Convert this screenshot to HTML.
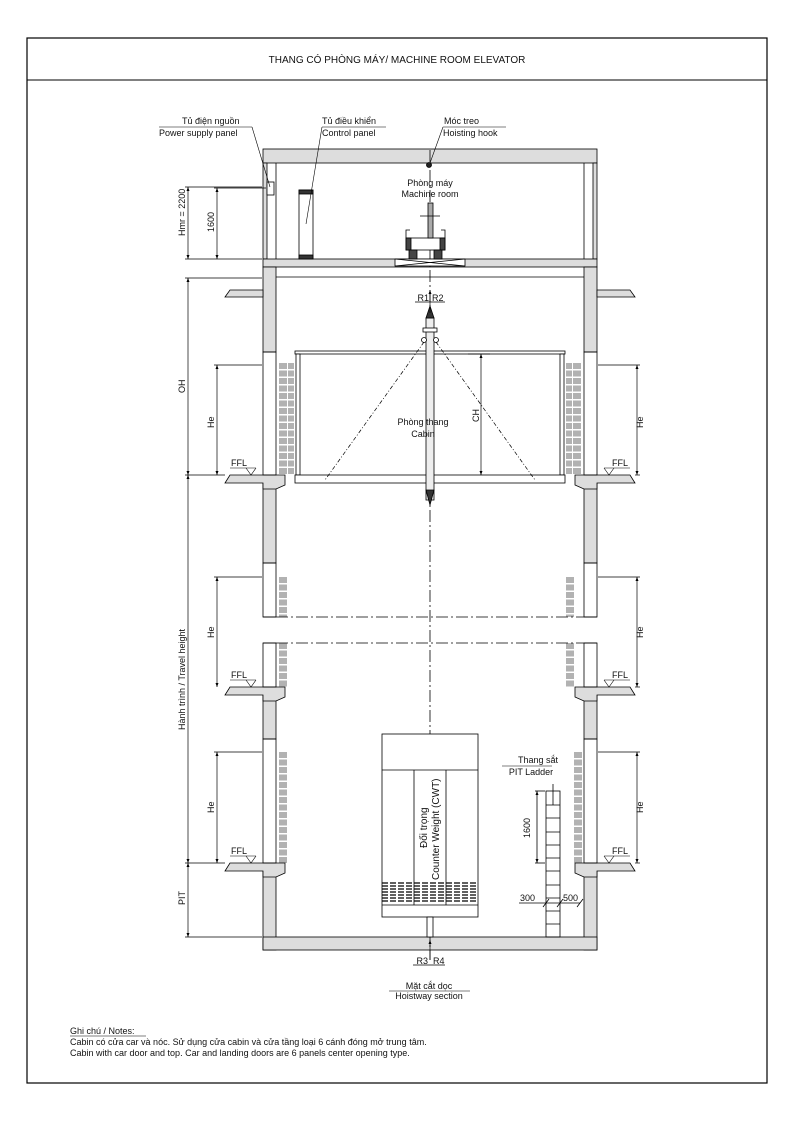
<!DOCTYPE html>
<html><head><meta charset="utf-8"><style>
html,body{margin:0;padding:0;background:#fff}
svg{display:block}
text{font-family:"Liberation Sans","Noto Sans CJK SC",sans-serif;fill:#111}
</style></head><body>
<svg width="793" height="1122" viewBox="0 0 793 1122" xmlns="http://www.w3.org/2000/svg">
<defs>
<marker id="ar" markerWidth="8" markerHeight="8" refX="4" refY="4" orient="auto-start-reverse" markerUnits="userSpaceOnUse"><path d="M0,2.5 L4,4 L0,5.5 Z" fill="#000"/></marker>
</defs>
<rect x="27" y="38" width="740" height="1045" fill="none" stroke="#000" stroke-width="1.2"/>
<line x1="27" y1="80" x2="767" y2="80" stroke="#000" stroke-width="1"/>
<text x="397" y="63" font-size="10" text-anchor="middle">THANG CÓ PHÒNG MÁY/  MACHINE ROOM ELEVATOR</text>

<g stroke="#000" stroke-width="0.8" fill="#ddd">
<rect x="263" y="149" width="334" height="14"/>
<rect x="263" y="163" width="4" height="96"/>
<rect x="593" y="163" width="4" height="96"/>
<rect x="263" y="259" width="334" height="8"/>
<rect x="263" y="267" width="13" height="85"/>
<rect x="263" y="483" width="13" height="80"/>
<rect x="263" y="695" width="13" height="44"/>
<rect x="263" y="871" width="13" height="79"/>
<rect x="584" y="267" width="13" height="85"/>
<rect x="584" y="483" width="13" height="80"/>
<rect x="584" y="695" width="13" height="44"/>
<rect x="584" y="871" width="13" height="79"/>
<rect x="263" y="937" width="334" height="13"/>
<path d="M263,290 L230,290 L225,297 L263,297 Z"/>
<path d="M597,290 L630,290 L635,297 L597,297 Z"/>
<path d="M276,475 L230,475 L225,483 L263,483 L263,489 L276,489 L285,485 L285,475 Z"/>
<path d="M276,687 L230,687 L225,695 L263,695 L263,701 L276,701 L285,697 L285,687 Z"/>
<path d="M276,863 L230,863 L225,871 L263,871 L263,877 L276,877 L285,873 L285,863 Z"/>
<path d="M584,475 L630,475 L635,483 L597,483 L597,489 L584,489 L575,485 L575,475 Z"/>
<path d="M584,687 L630,687 L635,695 L597,695 L597,701 L584,701 L575,697 L575,687 Z"/>
<path d="M584,863 L630,863 L635,871 L597,871 L597,877 L584,877 L575,873 L575,863 Z"/>
</g>
<g stroke="#000" stroke-width="0.8" fill="none">
<line x1="276" y1="163" x2="276" y2="259"/><line x1="584" y1="163" x2="584" y2="259"/>
<line x1="276" y1="277" x2="584" y2="277"/>
<rect x="263" y="352" width="13" height="123"/><rect x="584" y="352" width="13" height="123"/>
<rect x="263" y="563" width="13" height="54"/><rect x="584" y="563" width="13" height="54"/>
<rect x="263" y="643" width="13" height="44"/><rect x="584" y="643" width="13" height="44"/>
<rect x="263" y="739" width="13" height="124"/><rect x="584" y="739" width="13" height="124"/>
</g>
<g stroke="#000" stroke-width="0.8" stroke-dasharray="12,3,2,3">
<line x1="276" y1="617" x2="584" y2="617"/>
<line x1="276" y1="643" x2="584" y2="643"/>
<line x1="430" y1="150" x2="430" y2="960"/>
</g>
<g stroke="#000" stroke-width="0.8"><line x1="263" y1="617" x2="276" y2="617"/><line x1="263" y1="643" x2="276" y2="643"/><line x1="584" y1="617" x2="597" y2="617"/><line x1="584" y1="643" x2="597" y2="643"/></g>

<g stroke="#000" stroke-width="0.8" fill="#fff">
<rect x="267" y="182" width="7" height="13"/>
<rect x="299" y="190" width="14" height="69"/>
<rect x="299" y="190" width="14" height="4" fill="#333"/>
<rect x="299" y="255" width="14" height="4" fill="#333"/>
<rect x="395" y="259" width="70" height="7"/>
<line x1="395" y1="259" x2="465" y2="266"/><line x1="395" y1="266" x2="465" y2="259"/>
<rect x="406" y="238" width="39" height="12"/>
<rect x="406" y="238" width="5" height="12" fill="#444"/><rect x="440" y="238" width="5" height="12" fill="#444"/>
<rect x="409" y="250" width="8" height="9" fill="#444"/><rect x="434" y="250" width="8" height="9" fill="#444"/>
<rect x="428" y="203" width="5" height="35" fill="#aaa"/>
<line x1="420" y1="216" x2="440" y2="216"/>
<path d="M406,238 V230 H410 M445,238 V230 H441" fill="none"/>
<circle cx="429" cy="165" r="2.5" fill="#222"/>
</g>

<g stroke="#000" stroke-width="0.8" fill="#fff">
<rect x="295" y="351" width="270" height="3"/>
<rect x="296" y="354" width="4" height="121"/><rect x="560" y="354" width="4" height="121"/>
<rect x="295" y="475" width="270" height="8"/>
<rect x="426" y="318" width="8" height="182" fill="#eee"/>
<rect x="423" y="328" width="14" height="4"/>
<circle cx="424" cy="340" r="2.5"/><circle cx="436" cy="340" r="2.5"/>
<path d="M426,318 L430,306 L434,318 Z" fill="#333"/>
<path d="M426,490 L430,505 L434,490 Z" fill="#333"/>
</g>
<g stroke="#000" stroke-width="0.7" stroke-dasharray="4,2,1,2">
<line x1="424" y1="342" x2="325" y2="480"/><line x1="436" y1="342" x2="535" y2="480"/>
</g>
<g fill="none" stroke="#000" stroke-width="0.6" stroke-dasharray="6,1.5">
<path d="M280,363v112M282,363v112M284,363v112M286,363v112M289,363v112M291,363v112M293,363v112"/>
<path d="M567,363v112M569,363v112M571,363v112M574,363v112M576,363v112M578,363v112M580,363v112"/>
<path d="M280,577v40M282,577v40M284,577v40M286,577v40M567,577v40M569,577v40M571,577v40M573,577v40"/>
<path d="M280,643v44M282,643v44M284,643v44M286,643v44M567,643v44M569,643v44M571,643v44M573,643v44"/>
<path d="M280,752v111M282,752v111M284,752v111M286,752v111M575,752v111M577,752v111M579,752v111M581,752v111"/>
</g>

<g stroke="#000" stroke-width="0.8" fill="none">
<rect x="382" y="734" width="96" height="183" fill="#fff"/>
<line x1="382" y1="770" x2="478" y2="770"/>
<line x1="414" y1="770" x2="414" y2="905"/><line x1="446" y1="770" x2="446" y2="905"/>
<line x1="382" y1="905" x2="478" y2="905"/>
<path d="M382,883h96M382,886h96M382,889h96M382,892h96M382,895h96M382,898h96M382,901h96" stroke-dasharray="6,2" stroke-width="1.3"/>
<rect x="427" y="917" width="6" height="20" fill="#fff"/>
</g>
<text transform="translate(427,848) rotate(-90)" font-size="10">Đối trọng</text>
<text transform="translate(439,880) rotate(-90)" font-size="10">Counter Weight (CWT)</text>

<g stroke="#000" stroke-width="0.8" fill="none">
<rect x="546" y="791" width="14" height="146"/>
<path d="M546,805h14M546,818h14M546,832h14M546,845h14M546,858h14M546,871h14M546,885h14M546,898h14M546,911h14M546,924h14"/>
<line x1="545" y1="791" x2="535" y2="791"/><line x1="545" y1="863" x2="535" y2="863"/>
<line x1="537" y1="791" x2="537" y2="863" marker-start="url(#ar)" marker-end="url(#ar)"/>
<line x1="519" y1="903" x2="580" y2="903"/>
<path d="M543,907l6,-8M557,907l6,-8M577,907l6,-8"/>
<line x1="553" y1="805" x2="553" y2="784"/>
</g>
<text x="538" y="763" font-size="9" text-anchor="middle">Thang sắt</text>
<line x1="502" y1="766" x2="552" y2="766" stroke="#000" stroke-width="0.6"/>
<text x="531" y="775" font-size="9" text-anchor="middle">PIT Ladder</text>
<text transform="translate(530,838) rotate(-90)" font-size="9">1600</text>
<text x="520" y="901" font-size="9">300</text><text x="563" y="901" font-size="9">500</text>

<g stroke="#000" stroke-width="0.7" fill="none">
<line x1="185" y1="187" x2="262" y2="187"/><line x1="185" y1="259" x2="262" y2="259"/>
<line x1="188" y1="187" x2="188" y2="259" marker-start="url(#ar)" marker-end="url(#ar)"/>
<line x1="214" y1="188" x2="266" y2="188"/>
<line x1="217" y1="188" x2="217" y2="259" marker-start="url(#ar)" marker-end="url(#ar)"/>
<line x1="185" y1="278" x2="262" y2="278"/>
<line x1="188" y1="278" x2="188" y2="475" marker-start="url(#ar)" marker-end="url(#ar)"/>
<line x1="185" y1="475" x2="225" y2="475"/>
<line x1="188" y1="475" x2="188" y2="863" marker-start="url(#ar)" marker-end="url(#ar)"/>
<line x1="185" y1="863" x2="225" y2="863"/>
<line x1="188" y1="863" x2="188" y2="937" marker-start="url(#ar)" marker-end="url(#ar)"/>
<line x1="185" y1="937" x2="262" y2="937"/>
<line x1="214" y1="365" x2="262" y2="365"/><line x1="217" y1="365" x2="217" y2="475" marker-start="url(#ar)" marker-end="url(#ar)"/>
<line x1="214" y1="577" x2="262" y2="577"/><line x1="217" y1="577" x2="217" y2="687" marker-start="url(#ar)" marker-end="url(#ar)"/>
<line x1="214" y1="752" x2="262" y2="752"/><line x1="217" y1="752" x2="217" y2="863" marker-start="url(#ar)" marker-end="url(#ar)"/>
<line x1="598" y1="365" x2="640" y2="365"/><line x1="637" y1="365" x2="637" y2="475" marker-start="url(#ar)" marker-end="url(#ar)"/>
<line x1="598" y1="577" x2="640" y2="577"/><line x1="637" y1="577" x2="637" y2="687" marker-start="url(#ar)" marker-end="url(#ar)"/>
<line x1="598" y1="752" x2="640" y2="752"/><line x1="637" y1="752" x2="637" y2="863" marker-start="url(#ar)" marker-end="url(#ar)"/>
<line x1="635" y1="475" x2="640" y2="475"/><line x1="635" y1="687" x2="640" y2="687"/><line x1="635" y1="863" x2="640" y2="863"/>
<line x1="468" y1="354" x2="490" y2="354"/>
<line x1="481" y1="354" x2="481" y2="475" marker-start="url(#ar)" marker-end="url(#ar)"/>
<line x1="430" y1="313" x2="430" y2="290" marker-end="url(#ar)"/>
<line x1="415" y1="302" x2="445" y2="302"/>
<line x1="430" y1="960" x2="430" y2="940" marker-end="url(#ar)"/>
<line x1="413" y1="965" x2="445" y2="965"/>
</g>
<g font-size="9">
<text transform="translate(185,236) rotate(-90)">Hmr = 2200</text>
<text transform="translate(214,232) rotate(-90)">1600</text>
<text transform="translate(185,393) rotate(-90)">OH</text>
<text transform="translate(214,428) rotate(-90)">He</text>
<text transform="translate(214,638) rotate(-90)">He</text>
<text transform="translate(214,813) rotate(-90)">He</text>
<text transform="translate(643,428) rotate(-90)">He</text>
<text transform="translate(643,638) rotate(-90)">He</text>
<text transform="translate(643,813) rotate(-90)">He</text>
<text transform="translate(185,730) rotate(-90)">Hành trình / Travel height</text>
<text transform="translate(185,905) rotate(-90)">PIT</text>
<text transform="translate(479,422) rotate(-90)">CH</text>
<text x="429" y="301" text-anchor="end">R1</text><text x="432" y="301">R2</text>
<text x="428" y="964" text-anchor="end">R3</text><text x="433" y="964">R4</text>
<text x="430" y="186" text-anchor="middle">Phòng máy</text>
<text x="430" y="197" text-anchor="middle">Machine room</text>
<text x="423" y="425" text-anchor="middle">Phòng thang</text>
<text x="423" y="437" text-anchor="middle">Cabin</text>
<text x="231" y="466">FFL</text><text x="231" y="678">FFL</text><text x="231" y="854">FFL</text>
<text x="612" y="466">FFL</text><text x="612" y="678">FFL</text><text x="612" y="854">FFL</text>
<text x="182" y="124">Tủ điện nguồn</text>
<text x="159" y="136">Power supply panel</text>
<text x="322" y="124">Tủ điều khiển</text>
<text x="322" y="136">Control panel</text>
<text x="444" y="124">Móc treo</text>
<text x="443" y="136">Hoisting hook</text>
<text x="429" y="989" text-anchor="middle">Mặt cắt dọc</text>
<text x="429" y="999" text-anchor="middle">Hoistway section</text>
<text x="70" y="1034">Ghi chú / Notes:</text>
<text x="70" y="1045">Cabin có cửa car và nóc. Sử dụng cửa cabin và cửa tầng loại 6 cánh đóng mở trung tâm.</text>
<text x="70" y="1056">Cabin with car door and top.  Car and landing doors are 6 panels center opening type.</text>
</g>
<g stroke="#000" stroke-width="0.6" fill="none">
<line x1="230" y1="468" x2="256" y2="468"/><path d="M246,468 L251,475 L256,468"/>
<line x1="230" y1="680" x2="256" y2="680"/><path d="M246,680 L251,687 L256,680"/>
<line x1="230" y1="856" x2="256" y2="856"/><path d="M246,856 L251,863 L256,856"/>
<line x1="604" y1="468" x2="630" y2="468"/><path d="M604,468 L609,475 L614,468"/>
<line x1="604" y1="680" x2="630" y2="680"/><path d="M604,680 L609,687 L614,680"/>
<line x1="604" y1="856" x2="630" y2="856"/><path d="M604,856 L609,863 L614,856"/>
<line x1="159" y1="127" x2="252" y2="127"/><path d="M252,127 L270,187"/>
<line x1="322" y1="127" x2="386" y2="127"/><path d="M322,127 L306,224"/>
<line x1="443" y1="127" x2="506" y2="127"/><path d="M443,127 L430,163"/>
<line x1="389" y1="991" x2="470" y2="991"/>
<line x1="70" y1="1036" x2="146" y2="1036"/>
</g>
</svg>
</body></html>
